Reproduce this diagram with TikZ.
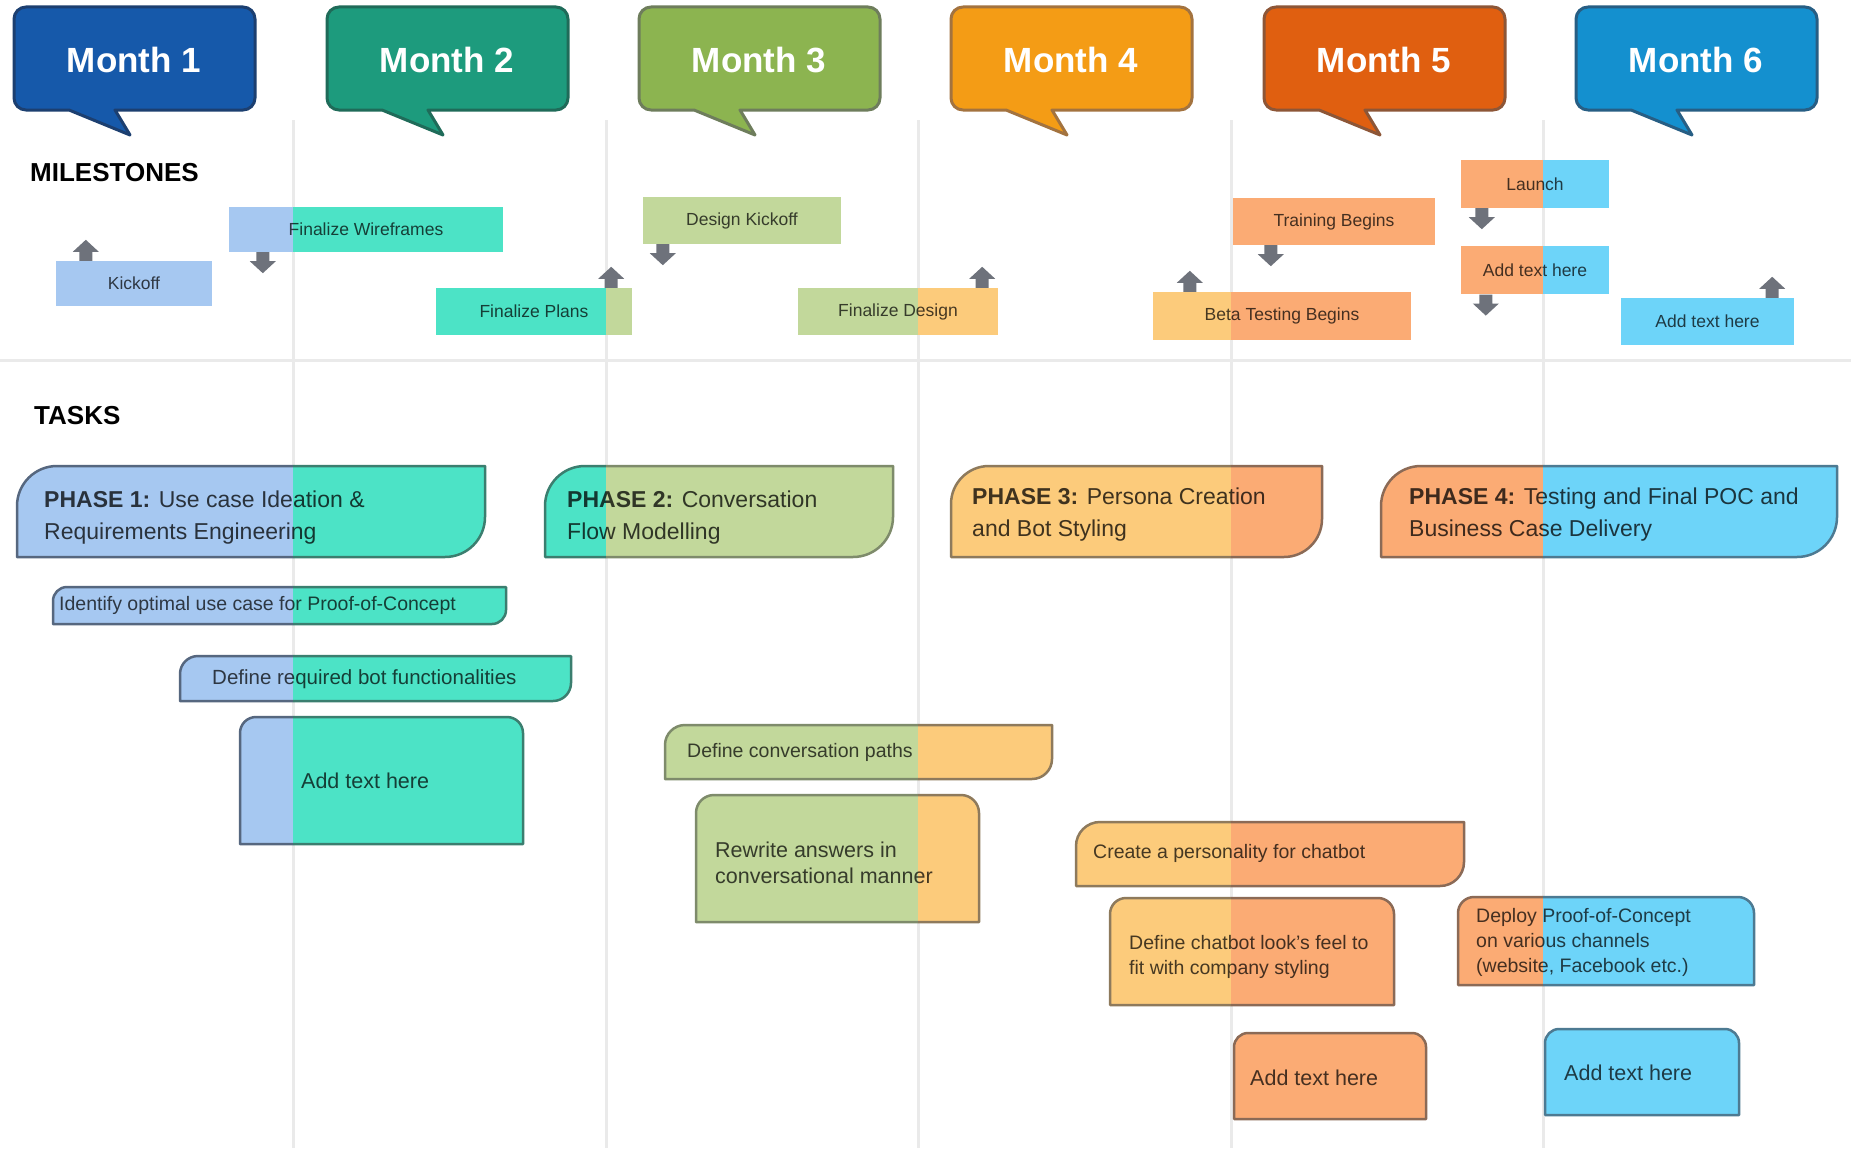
\documentclass[tikz,border=0pt]{standalone}
\usepackage{fontspec}
\setmainfont{Liberation Sans}
\usetikzlibrary{positioning}

% month colours: callout fill/edge, soft fill/line
\definecolor{m1dark}{HTML}{1659AA}\definecolor{m1edge}{HTML}{1C3F70}
\definecolor{m2dark}{HTML}{1D9B7D}\definecolor{m2edge}{HTML}{1F6B59}
\definecolor{m3dark}{HTML}{8CB450}\definecolor{m3edge}{HTML}{6E7D5C}
\definecolor{m4dark}{HTML}{F49C15}\definecolor{m4edge}{HTML}{A3733F}
\definecolor{m5dark}{HTML}{E05F10}\definecolor{m5edge}{HTML}{8D5637}
\definecolor{m6dark}{HTML}{1490CF}\definecolor{m6edge}{HTML}{275E84}
\definecolor{m1soft}{HTML}{A6C8F1}\definecolor{m1line}{HTML}{56677F}
\definecolor{m2soft}{HTML}{4CE3C6}\definecolor{m2line}{HTML}{3B7E6F}
\definecolor{m3soft}{HTML}{C2D89B}\definecolor{m3line}{HTML}{7E8B6B}
\definecolor{m4soft}{HTML}{FCCB7B}\definecolor{m4line}{HTML}{8E7A5C}
\definecolor{m5soft}{HTML}{FBAB74}\definecolor{m5line}{HTML}{8B6A56}
\definecolor{m6soft}{HTML}{6DD4F9}\definecolor{m6line}{HTML}{4D7A92}
\definecolor{gridgray}{HTML}{EAEAEA}
\definecolor{markgray}{HTML}{6E727B}

% shape, x1, y1, x2, y2, radius, split x, left month, right month
\newcommand\tonebox[9]{%
  \begin{scope}
    \clip (-5,5) rectangle (#7,-1153);
    \fill[m#8soft, #1={#2}{#3}{#4}{#5}{#6}];
    \draw[boxline, draw=m#8line, #1={#2}{#3}{#4}{#5}{#6}];
  \end{scope}
  \begin{scope}
    \clip (#7,5) rectangle (1856,-1153);
    \fill[m#9soft, #1={#2}{#3}{#4}{#5}{#6}];
    \draw[boxline, draw=m#9line, #1={#2}{#3}{#4}{#5}{#6}];
  \end{scope}}

\begin{document}
\begin{tikzpicture}[x=1pt, y=1pt,
  gridline/.style={draw=gridgray, line width=3pt},
  monthbox/.style={line width=3pt, line join=round},
  monthtext/.style={font=\fontsize{35}{40}\selectfont\bfseries, text=white},
  heading/.style={anchor=west, inner sep=0pt, font=\fontsize{26}{30}\selectfont\bfseries},
  msbox/.style={inner sep=0pt, font=\fontsize{17.5}{20}\selectfont, text=black, text opacity=0.72},
  splitfill/.style 2 args={path picture={\fill[#2] ([xshift=#1pt]path picture bounding box.south west) rectangle (path picture bounding box.north east);}},
  phasetext/.style={anchor=north west, align=left, inner sep=0pt, font=\fontsize{23}{32}\selectfont, text=black, text opacity=0.75},
  tasktext/.style={anchor=west, align=left, inner sep=0pt, font=\fontsize{19.5}{25}\selectfont, text=black, text opacity=0.72},
  bigtask/.style={tasktext, font=\fontsize{21.5}{26}\selectfont},
  boxline/.style={line width=2.5pt, line join=round},
  monthcallout/.style={insert path={(#1+55,-110) -- (#1+12,-110) arc[start angle=270,end angle=180,radius=12pt]
    -- (#1,-19) arc[start angle=180,end angle=90,radius=12pt] -- (#1+229,-7) arc[start angle=90,end angle=0,radius=12pt]
    -- (#1+241,-98) arc[start angle=0,end angle=-90,radius=12pt] -- (#1+101,-110) -- (#1+116,-135) -- cycle}},
  leafbox/.style n args={5}{insert path={(#1,-#4) -- (#1,-#2-#5) arc[start angle=180,end angle=90,radius=#5pt]
    -- (#3,-#2) -- (#3,-#4+#5) arc[start angle=0,end angle=-90,radius=#5pt] -- cycle}},
  capbox/.style n args={5}{insert path={(#1,-#4) -- (#1,-#2-#5) arc[start angle=180,end angle=90,radius=#5pt]
    -- (#3-#5,-#2) arc[start angle=90,end angle=0,radius=#5pt] -- (#3,-#4) -- cycle}},
  pics/upmark/.style={code={\fill[markgray] (-6.5,0) -- (-6.5,9) -- (-13,9) -- (0,21) -- (13,9) -- (6.5,9) -- (6.5,0) -- cycle;}},
  pics/downmark/.style={code={\fill[markgray] (-6.5,0) -- (-6.5,-9) -- (-13,-9) -- (0,-21) -- (13,-9) -- (6.5,-9) -- (6.5,0) -- cycle;}}
  ]
  \fill[white] (0,0) rectangle (1851,-1148);
  \useasboundingbox (0,0) rectangle (1851,-1148);

  % Grid
  \draw[gridline] (293,-120) -- (293,-1148);
  \draw[gridline] (606,-120) -- (606,-1148);
  \draw[gridline] (918,-120) -- (918,-1148);
  \draw[gridline] (1231,-120) -- (1231,-1148);
  \draw[gridline] (1543,-120) -- (1543,-1148);
  \draw[gridline] (0,-360) -- (1851,-360);

  % Month headers
  \filldraw[monthbox, fill=m1dark, draw=m1edge, monthcallout=14];
  \filldraw[monthbox, fill=m2dark, draw=m2edge, monthcallout=327];
  \filldraw[monthbox, fill=m3dark, draw=m3edge, monthcallout=639];
  \filldraw[monthbox, fill=m4dark, draw=m4edge, monthcallout=951];
  \filldraw[monthbox, fill=m5dark, draw=m5edge, monthcallout=1264];
  \filldraw[monthbox, fill=m6dark, draw=m6edge, monthcallout=1576];
  \node[monthtext] (month1) at (134,-60)  {Month 1};
  \node[monthtext] (month2) at (447,-60)  {Month 2};
  \node[monthtext] (month3) at (759,-60)  {Month 3};
  \node[monthtext] (month4) at (1071,-60) {Month 4};
  \node[monthtext] (month5) at (1384,-60) {Month 5};
  \node[monthtext] (month6) at (1696,-60) {Month 6};

  % Milestones
  \node[heading] (milestones) at (30,-173) {MILESTONES};
  \node[msbox, fill=m1soft, minimum width=156pt, minimum height=45pt]                          (kickoff)       at (134,-283.5)  {Kickoff};
  \node[msbox, fill=m1soft, splitfill={64}{m2soft}, minimum width=274pt, minimum height=45pt]  (wireframes)    at (366,-229.5)  {Finalize Wireframes};
  \node[msbox, fill=m2soft, splitfill={170}{m3soft}, minimum width=196pt, minimum height=47pt] (plans)         at (534,-311.5)  {Finalize Plans};
  \node[msbox, fill=m3soft, minimum width=198pt, minimum height=47pt]                          (designkickoff) at (742,-220.5)  {Design Kickoff};
  \node[msbox, fill=m3soft, splitfill={120}{m4soft}, minimum width=200pt, minimum height=47pt] (design)        at (898,-311.5)  {Finalize Design};
  \node[msbox, fill=m4soft, splitfill={78}{m5soft}, minimum width=258pt, minimum height=48pt]  (beta)          at (1282,-316)   {Beta Testing Begins};
  \node[msbox, fill=m5soft, minimum width=202pt, minimum height=47pt]                          (training)      at (1334,-221.5) {Training Begins};
  \node[msbox, fill=m5soft, splitfill={82}{m6soft}, minimum width=148pt, minimum height=48pt]  (launch)        at (1535,-184)   {Launch};
  \node[msbox, fill=m5soft, splitfill={82}{m6soft}, minimum width=148pt, minimum height=48pt, below=38pt of launch] (msextra) {Add text here};
  \node[msbox, fill=m6soft, minimum width=173pt, minimum height=47pt]                          (msfinal)       at (1707.5,-321.5) {Add text here};

  \pic at ([xshift=30pt]kickoff.north west)        {upmark};
  \pic at ([xshift=34pt]wireframes.south west)     {downmark};
  \pic at ([xshift=-21pt]plans.north east)         {upmark};
  \pic at ([xshift=20pt]designkickoff.south west)  {downmark};
  \pic at ([xshift=-16pt]design.north east)        {upmark};
  \pic at ([xshift=37pt]beta.north west)           {upmark};
  \pic at ([xshift=38pt]training.south west)       {downmark};
  \pic at ([xshift=21pt]launch.south west)         {downmark};
  \pic at ([xshift=25pt]msextra.south west)        {downmark};
  \pic at ([xshift=-22pt]msfinal.north east)       {upmark};

  % Phases
  \node[heading] (tasks) at (34,-416) {TASKS};
  \tonebox{leafbox}{17}{466}{485}{557}{40}{293}{1}{2}
  \tonebox{leafbox}{545}{466}{893}{557}{40}{606}{2}{3}
  \tonebox{leafbox}{951}{466}{1322}{557}{38}{1231}{4}{5}
  \tonebox{leafbox}{1381}{466}{1837}{557}{40}{1543}{5}{6}
  \node[phasetext] (phase1) at (44,-491)   {\textbf{PHASE 1:} Use case Ideation \&\\Requirements Engineering};
  \node[phasetext] (phase2) at (567,-491)  {\textbf{PHASE 2:} Conversation\\Flow Modelling};
  \node[phasetext] (phase3) at (972,-488)  {\textbf{PHASE 3:} Persona Creation\\and Bot Styling};
  \node[phasetext] (phase4) at (1409,-488) {\textbf{PHASE 4:} Testing and Final POC and\\Business Case Delivery};

  % Tasks
  \tonebox{leafbox}{53}{587}{506}{624}{14}{293}{1}{2}
  \tonebox{leafbox}{180}{656}{571}{701}{18}{293}{1}{2}
  \tonebox{capbox}{240}{717}{523}{844}{16}{293}{1}{2}
  \tonebox{leafbox}{665}{725}{1052}{779}{20}{918}{3}{4}
  \tonebox{capbox}{696}{795}{979}{922}{18}{918}{3}{4}
  \tonebox{leafbox}{1076}{822}{1464}{886}{24}{1231}{4}{5}
  \tonebox{capbox}{1110}{898}{1394}{1005}{16}{1231}{4}{5}
  \tonebox{capbox}{1234}{1033}{1426}{1119}{14}{1851}{5}{5}
  \tonebox{capbox}{1458}{897}{1754}{985}{16}{1543}{5}{6}
  \tonebox{capbox}{1545}{1029}{1739}{1115}{14}{1851}{6}{6}
  \node[tasktext] (task1)  at (59,-605)   {Identify optimal use case for Proof-of-Concept};
  \node[tasktext, font=\fontsize{20.5}{25}\selectfont] (task2) at (212,-679) {Define required bot functionalities};
  \node[bigtask]  (task3)  at (301,-781)  {Add text here};
  \node[tasktext] (task4)  at (687,-752)  {Define conversation paths};
  \node[bigtask, anchor=north west] (task5) at (715,-842) {Rewrite answers in\\conversational manner};
  \node[tasktext] (task6)  at (1093,-853) {Create a personality for chatbot};
  \node[tasktext, anchor=north west] (task7) at (1129,-935) {Define chatbot look's feel to\\fit with company styling};
  \node[bigtask]  (task8)  at (1250,-1078) {Add text here};
  \node[tasktext, anchor=north west] (task9) at (1476,-908) {Deploy Proof-of-Concept\\on various channels\\(website, Facebook etc.)};
  \node[bigtask]  (task10) at (1564,-1073) {Add text here};
\end{tikzpicture}
\end{document}
